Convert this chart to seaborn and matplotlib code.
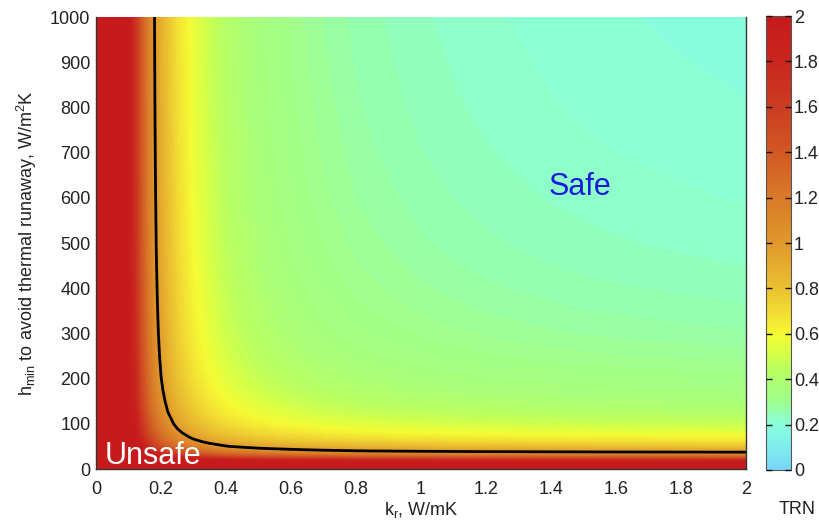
import numpy as np
import matplotlib
matplotlib.use("Agg")
import matplotlib.pyplot as plt
import seaborn as sns
from matplotlib.colors import LinearSegmentedColormap

# ---- data ----
# TRN along the top edge (h = 1000 W/m2K) versus k_r
k_vals = [0.0, 0.05, 0.08, 0.10, 0.12, 0.14, 0.16, 0.18, 0.20, 0.22, 0.25, 0.30,
          0.35, 0.40, 0.45, 0.50, 0.55, 0.60, 0.65, 0.70, 0.75, 0.80, 0.90, 1.00,
          1.10, 1.20, 1.30, 1.40, 1.50, 1.60, 1.70, 1.80, 1.90, 2.00]
trn_top = [9.9, 5.82, 2.96, 2.17, 1.69, 1.38, 1.16, 1.00, 0.88, 0.79, 0.68, 0.56,
           0.48, 0.42, 0.383, 0.35, 0.329, 0.31, 0.294, 0.28, 0.271, 0.26, 0.248, 0.237,
           0.229, 0.222, 0.217, 0.212, 0.208, 0.205, 0.2025, 0.20, 0.198, 0.196]
# TRN along the right edge (k_r = 2 W/mK) versus h
h_vals = [0, 10, 15, 20, 25, 30, 35, 40, 50, 60, 70, 80, 100, 125, 150, 175, 200,
          250, 300, 350, 400, 450, 500, 600, 700, 800, 900, 1000]
trn_right = [9.9, 3.27, 2.23, 1.72, 1.405, 1.198, 1.051, 0.94, 0.785, 0.682, 0.608,
             0.553, 0.475, 0.413, 0.372, 0.342, 0.32, 0.289, 0.268, 0.254, 0.243,
             0.234, 0.227, 0.217, 0.2096, 0.204, 0.1997, 0.196]
trn_corner = 0.196
cbar_ticks = [0, 0.2, 0.4, 0.6, 0.8, 1, 1.2, 1.4, 1.6, 1.8, 2]
x_ticks = [0, 0.2, 0.4, 0.6, 0.8, 1, 1.2, 1.4, 1.6, 1.8, 2]
y_ticks = [0, 100, 200, 300, 400, 500, 600, 700, 800, 900, 1000]

# ---- style ----
sns.set_theme(style="white")
plt.rcParams["font.family"] = ["Liberation Sans", "DejaVu Sans"]
plt.rcParams["mathtext.default"] = "regular"

cmap_stops = [
    (0.0, (0.47, 0.83, 0.97)),
    (0.1, (0.50, 0.93, 0.93)),
    (0.19, (0.53, 0.99, 0.88)),
    (0.22, (0.55, 1.00, 0.81)),
    (0.26, (0.58, 1.00, 0.68)),
    (0.31, (0.63, 1.00, 0.54)),
    (0.38, (0.67, 1.00, 0.46)),
    (0.45, (0.73, 1.00, 0.37)),
    (0.52, (0.85, 1.00, 0.27)),
    (0.6, (0.96, 0.98, 0.20)),
    (0.7, (0.95, 0.86, 0.20)),
    (0.8, (0.92, 0.76, 0.19)),
    (1.0, (0.88, 0.60, 0.17)),
    (1.2, (0.85, 0.48, 0.16)),
    (1.4, (0.82, 0.35, 0.14)),
    (1.6, (0.80, 0.24, 0.13)),
    (1.8, (0.79, 0.15, 0.12)),
    (2.0, (0.78, 0.10, 0.11)),
]
cmap = LinearSegmentedColormap.from_list("trn", [(v / 2.0, c) for v, c in cmap_stops])

K, H = np.meshgrid(np.array(k_vals), np.array(h_vals))
Z = np.add.outer(np.array(trn_right), np.array(trn_top)) - trn_corner
Zc = np.clip(Z, 0, 2)

fig = plt.figure(figsize=(8.19, 5.25), dpi=100)
ax = fig.add_axes([96 / 819, 1 - 469 / 525, 650 / 819, 452 / 525])
cax = fig.add_axes([766 / 819, 1 - 470 / 525, 25 / 819, 454 / 525])

levels = np.linspace(0, 2, 129)
cf = ax.contourf(K, H, Zc, levels=levels, cmap=cmap, vmin=0, vmax=2)
ax.contour(K, H, Z, levels=[1.0], colors="black", linewidths=2.0)

ax.set_xlim(0, 2)
ax.set_ylim(0, 1000)
ax.set_xticks(x_ticks)
ax.set_xticklabels([f"{t:g}" for t in x_ticks])
ax.set_yticks(y_ticks)
ax.set_yticklabels([f"{t:g}" for t in y_ticks])
ax.tick_params(axis="y", labelsize=13, length=0, pad=4, colors="#222222")
ax.tick_params(axis="x", labelsize=13, length=0, pad=9, colors="#222222")
for side in ["left", "bottom", "right"]:
    ax.spines[side].set_visible(True)
    ax.spines[side].set_color("#333333")
    ax.spines[side].set_linewidth(1.0)
ax.spines["top"].set_visible(False)

ax.set_xlabel(r"k$_r$, W/mK", fontsize=13, labelpad=1, color="#222222")
ax.set_ylabel(r"h$_{min}$ to avoid thermal runaway, W/m$^2$K", fontsize=13,
              labelpad=8, color="#222222")

ax.text(1.49, 624, "Safe", color="#1a1adc", fontsize=22, ha="center", va="center")
ax.text(0.175, 28, "Unsafe", color="white", fontsize=22, ha="center", va="center")

cb = fig.colorbar(cf, cax=cax, ticks=cbar_ticks)
cb.ax.set_axisbelow(False)
cb.ax.set_yticklabels([f"{t:g}" for t in cbar_ticks])
cb.ax.tick_params(labelsize=13, direction="in", length=4, width=1.0,
                  left=True, right=True, pad=2, labelcolor="#222222", color="#111111")
cb.outline.set_edgecolor("#555555")
cb.outline.set_linewidth(0.8)

fig.text(797 / 819, 1 - 509 / 525, "TRN", fontsize=13, ha="center", va="center",
         color="#222222")

fig.savefig("out.png", dpi=100)
